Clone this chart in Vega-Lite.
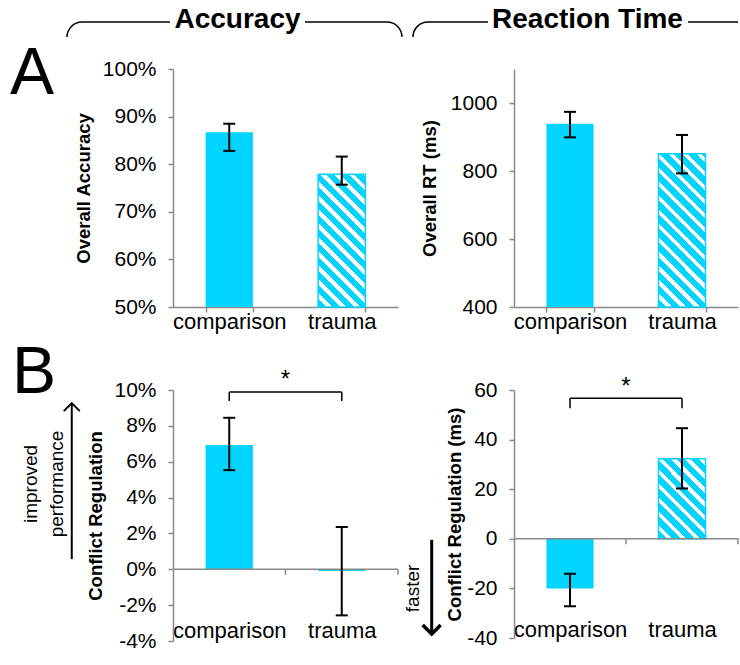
{
  "$schema": "https://vega.github.io/schema/vega-lite/v6.json",
  "padding": {"left": 10, "top": 5, "right": 0, "bottom": 5},
  "background": "white",
  "bounds": "flush",
  "columns": 2,
  "spacing": {"row": 83, "column": 116},
  "datasets": {
    "overall": [
      {"group": "comparison", "acc": 0.867, "accLo": 0.828, "accHi": 0.885, "rt": 939, "rtLo": 899, "rtHi": 974},
      {"group": "trauma", "acc": 0.779, "accLo": 0.757, "accHi": 0.816, "rt": 851, "rtLo": 793, "rtHi": 906}
    ],
    "regulation": [
      {"group": "comparison", "cr": 0.0693, "crLo": 0.0553, "crHi": 0.0845, "crt": -20, "crtLo": -27.2, "crtHi": -14.1},
      {"group": "trauma", "cr": -0.001, "crLo": -0.0257, "crHi": 0.0236, "crt": 32.3, "crtLo": 20.3, "crtHi": 44.6}
    ]
  },
  "concat": [
    {
      "width": 225,
      "height": 238,
      "layer": [
        {
          "data": {"name": "overall"},
          "transform": [{"filter": "datum.group === 'comparison'"}],
          "mark": {"type": "bar", "color": "#00d4ff"},
          "encoding": {
            "x": {"field": "group", "type": "nominal", "title": null, "scale": {"paddingInner": 0.58, "paddingOuter": 0.29}},
            "y": {"field": "acc", "type": "quantitative", "title": "Overall Accuracy", "scale": {"domain": [0.5, 1], "nice": false}, "axis": {"values": [0.5, 0.6, 0.7, 0.8, 0.9, 1.0], "tickCount": 20, "format": ".0%", "titlePadding": 9}},
            "y2": {"datum": 0.5}
          }
        },
        {
          "data": {"name": "overall"},
          "transform": [{"filter": "datum.group === 'trauma'"}],
          "mark": {"type": "bar", "stroke": "#00d4ff", "strokeWidth": 1.5, "fill": {"gradient": "linear", "x1": 0, "y1": 1, "x2": 0.4282, "y2": -0.2034, "stops": [
            {"offset": 0, "color": "#00d4ff"}, {"offset": 0.0468, "color": "#00d4ff"}, {"offset": 0.0468, "color": "#ffffff"}, {"offset": 0.078, "color": "#ffffff"},
            {"offset": 0.078, "color": "#00d4ff"}, {"offset": 0.1248, "color": "#00d4ff"}, {"offset": 0.1248, "color": "#ffffff"}, {"offset": 0.156, "color": "#ffffff"},
            {"offset": 0.156, "color": "#00d4ff"}, {"offset": 0.2028, "color": "#00d4ff"}, {"offset": 0.2028, "color": "#ffffff"}, {"offset": 0.234, "color": "#ffffff"},
            {"offset": 0.234, "color": "#00d4ff"}, {"offset": 0.2808, "color": "#00d4ff"}, {"offset": 0.2808, "color": "#ffffff"}, {"offset": 0.312, "color": "#ffffff"},
            {"offset": 0.312, "color": "#00d4ff"}, {"offset": 0.3588, "color": "#00d4ff"}, {"offset": 0.3588, "color": "#ffffff"}, {"offset": 0.39, "color": "#ffffff"},
            {"offset": 0.39, "color": "#00d4ff"}, {"offset": 0.4368, "color": "#00d4ff"}, {"offset": 0.4368, "color": "#ffffff"}, {"offset": 0.468, "color": "#ffffff"},
            {"offset": 0.468, "color": "#00d4ff"}, {"offset": 0.5148, "color": "#00d4ff"}, {"offset": 0.5148, "color": "#ffffff"}, {"offset": 0.546, "color": "#ffffff"},
            {"offset": 0.546, "color": "#00d4ff"}, {"offset": 0.5928, "color": "#00d4ff"}, {"offset": 0.5928, "color": "#ffffff"}, {"offset": 0.624, "color": "#ffffff"},
            {"offset": 0.624, "color": "#00d4ff"}, {"offset": 0.6708, "color": "#00d4ff"}, {"offset": 0.6708, "color": "#ffffff"}, {"offset": 0.702, "color": "#ffffff"},
            {"offset": 0.702, "color": "#00d4ff"}, {"offset": 0.7488, "color": "#00d4ff"}, {"offset": 0.7488, "color": "#ffffff"}, {"offset": 0.78, "color": "#ffffff"},
            {"offset": 0.78, "color": "#00d4ff"}, {"offset": 0.8268, "color": "#00d4ff"}, {"offset": 0.8268, "color": "#ffffff"}, {"offset": 0.858, "color": "#ffffff"},
            {"offset": 0.858, "color": "#00d4ff"}, {"offset": 0.9048, "color": "#00d4ff"}, {"offset": 0.9048, "color": "#ffffff"}, {"offset": 0.936, "color": "#ffffff"},
            {"offset": 0.936, "color": "#00d4ff"}, {"offset": 0.9828, "color": "#00d4ff"}, {"offset": 0.9828, "color": "#ffffff"}, {"offset": 1, "color": "#ffffff"}
          ]}},
          "encoding": {
            "x": {"field": "group", "type": "nominal", "title": null},
            "y": {"field": "acc", "type": "quantitative", "title": "Overall Accuracy"},
            "y2": {"datum": 0.5}
          }
        },
        {
          "data": {"name": "overall"},
          "mark": {"type": "rule", "color": "#000000", "strokeWidth": 2},
          "encoding": {
            "x": {"field": "group", "type": "nominal", "title": null},
            "y": {"field": "accLo", "type": "quantitative", "title": "Overall Accuracy"},
            "y2": {"field": "accHi"}
          }
        },
        {
          "data": {"name": "overall"},
          "mark": {"type": "tick", "color": "#000000", "thickness": 2, "size": 12, "opacity": 1},
          "encoding": {
            "x": {"field": "group", "type": "nominal", "title": null},
            "y": {"field": "accLo", "type": "quantitative", "title": "Overall Accuracy"}
          }
        },
        {
          "data": {"name": "overall"},
          "mark": {"type": "tick", "color": "#000000", "thickness": 2, "size": 12, "opacity": 1},
          "encoding": {
            "x": {"field": "group", "type": "nominal", "title": null},
            "y": {"field": "accHi", "type": "quantitative", "title": "Overall Accuracy"}
          }
        },
        {
          "data": {"values": [{}]},
          "mark": {"type": "text", "text": "A", "fontSize": 66, "font": "Liberation Sans", "align": "left", "baseline": "alphabetic", "color": "#000000", "xOffset": -219.25},
          "encoding": {"x": {"datum": "comparison"}, "y": {"datum": 0.9475}}
        },
        {
          "data": {"values": [{}]},
          "mark": {"type": "text", "text": "Accuracy", "fontSize": 28, "fontWeight": "bold", "font": "Liberation Sans", "align": "center", "baseline": "alphabetic", "color": "#000000", "xOffset": 8.25},
          "encoding": {"x": {"datum": "comparison"}, "y": {"datum": 1.0861}}
        },
        {
          "data": {"values": [{}]},
          "mark": {"type": "rule", "color": "#000000", "strokeWidth": 1.5, "xOffset": -147.25, "x2Offset": -59.25},
          "encoding": {"x": {"datum": "comparison"}, "x2": {"datum": "comparison"}, "y": {"datum": 1.0987}}
        },
        {
          "data": {"values": [{}]},
          "mark": {"type": "rule", "color": "#000000", "strokeWidth": 1.5, "xOffset": 75.75, "x2Offset": 157.75},
          "encoding": {"x": {"datum": "comparison"}, "x2": {"datum": "comparison"}, "y": {"datum": 1.0987}}
        },
        {
          "data": {"values": [{}]},
          "mark": {"type": "point", "shape": "M-1,0A1,1,0,0,1,0,-1", "size": 900, "filled": false, "stroke": "#000000", "strokeWidth": 1.5, "opacity": 1, "xOffset": -147.25},
          "encoding": {"x": {"datum": "comparison"}, "y": {"datum": 1.0672}}
        },
        {
          "data": {"values": [{}]},
          "mark": {"type": "point", "shape": "M0,-1A1,1,0,0,1,1,0", "size": 900, "filled": false, "stroke": "#000000", "strokeWidth": 1.5, "opacity": 1, "xOffset": 157.75},
          "encoding": {"x": {"datum": "comparison"}, "y": {"datum": 1.0672}}
        }
      ]
    },
    {
      "width": 224,
      "height": 238,
      "layer": [
        {
          "data": {"name": "overall"},
          "transform": [{"filter": "datum.group === 'comparison'"}],
          "mark": {"type": "bar", "color": "#00d4ff"},
          "encoding": {
            "x": {"field": "group", "type": "nominal", "title": null, "scale": {"paddingInner": 0.58, "paddingOuter": 0.29}},
            "y": {"field": "rt", "type": "quantitative", "title": "Overall RT (ms)", "scale": {"domain": [400, 1100], "nice": false}, "axis": {"values": [400, 600, 800, 1000], "tickCount": 20, "format": "d", "titlePadding": 11}},
            "y2": {"datum": 400}
          }
        },
        {
          "data": {"name": "overall"},
          "transform": [{"filter": "datum.group === 'trauma'"}],
          "mark": {"type": "bar", "stroke": "#00d4ff", "strokeWidth": 1.5, "fill": {"gradient": "linear", "x1": 0, "y1": 1, "x2": 0.3665, "y2": -0.1944, "stops": [
            {"offset": 0, "color": "#00d4ff"}, {"offset": 0.042, "color": "#00d4ff"}, {"offset": 0.042, "color": "#ffffff"}, {"offset": 0.07, "color": "#ffffff"},
            {"offset": 0.07, "color": "#00d4ff"}, {"offset": 0.112, "color": "#00d4ff"}, {"offset": 0.112, "color": "#ffffff"}, {"offset": 0.14, "color": "#ffffff"},
            {"offset": 0.14, "color": "#00d4ff"}, {"offset": 0.182, "color": "#00d4ff"}, {"offset": 0.182, "color": "#ffffff"}, {"offset": 0.21, "color": "#ffffff"},
            {"offset": 0.21, "color": "#00d4ff"}, {"offset": 0.252, "color": "#00d4ff"}, {"offset": 0.252, "color": "#ffffff"}, {"offset": 0.28, "color": "#ffffff"},
            {"offset": 0.28, "color": "#00d4ff"}, {"offset": 0.322, "color": "#00d4ff"}, {"offset": 0.322, "color": "#ffffff"}, {"offset": 0.35, "color": "#ffffff"},
            {"offset": 0.35, "color": "#00d4ff"}, {"offset": 0.392, "color": "#00d4ff"}, {"offset": 0.392, "color": "#ffffff"}, {"offset": 0.42, "color": "#ffffff"},
            {"offset": 0.42, "color": "#00d4ff"}, {"offset": 0.462, "color": "#00d4ff"}, {"offset": 0.462, "color": "#ffffff"}, {"offset": 0.49, "color": "#ffffff"},
            {"offset": 0.49, "color": "#00d4ff"}, {"offset": 0.532, "color": "#00d4ff"}, {"offset": 0.532, "color": "#ffffff"}, {"offset": 0.56, "color": "#ffffff"},
            {"offset": 0.56, "color": "#00d4ff"}, {"offset": 0.602, "color": "#00d4ff"}, {"offset": 0.602, "color": "#ffffff"}, {"offset": 0.63, "color": "#ffffff"},
            {"offset": 0.63, "color": "#00d4ff"}, {"offset": 0.672, "color": "#00d4ff"}, {"offset": 0.672, "color": "#ffffff"}, {"offset": 0.7, "color": "#ffffff"},
            {"offset": 0.7, "color": "#00d4ff"}, {"offset": 0.742, "color": "#00d4ff"}, {"offset": 0.742, "color": "#ffffff"}, {"offset": 0.77, "color": "#ffffff"},
            {"offset": 0.77, "color": "#00d4ff"}, {"offset": 0.812, "color": "#00d4ff"}, {"offset": 0.812, "color": "#ffffff"}, {"offset": 0.84, "color": "#ffffff"},
            {"offset": 0.84, "color": "#00d4ff"}, {"offset": 0.882, "color": "#00d4ff"}, {"offset": 0.882, "color": "#ffffff"}, {"offset": 0.91, "color": "#ffffff"},
            {"offset": 0.91, "color": "#00d4ff"}, {"offset": 0.952, "color": "#00d4ff"}, {"offset": 0.952, "color": "#ffffff"}, {"offset": 0.98, "color": "#ffffff"},
            {"offset": 0.98, "color": "#00d4ff"}, {"offset": 1, "color": "#00d4ff"}
          ]}},
          "encoding": {
            "x": {"field": "group", "type": "nominal", "title": null},
            "y": {"field": "rt", "type": "quantitative", "title": "Overall RT (ms)"},
            "y2": {"datum": 400}
          }
        },
        {
          "data": {"name": "overall"},
          "mark": {"type": "rule", "color": "#000000", "strokeWidth": 2},
          "encoding": {
            "x": {"field": "group", "type": "nominal", "title": null},
            "y": {"field": "rtLo", "type": "quantitative", "title": "Overall RT (ms)"},
            "y2": {"field": "rtHi"}
          }
        },
        {
          "data": {"name": "overall"},
          "mark": {"type": "tick", "color": "#000000", "thickness": 2, "size": 12, "opacity": 1},
          "encoding": {
            "x": {"field": "group", "type": "nominal", "title": null},
            "y": {"field": "rtLo", "type": "quantitative", "title": "Overall RT (ms)"}
          }
        },
        {
          "data": {"name": "overall"},
          "mark": {"type": "tick", "color": "#000000", "thickness": 2, "size": 12, "opacity": 1},
          "encoding": {
            "x": {"field": "group", "type": "nominal", "title": null},
            "y": {"field": "rtHi", "type": "quantitative", "title": "Overall RT (ms)"}
          }
        },
        {
          "data": {"values": [{}]},
          "mark": {"type": "text", "text": "Reaction Time", "fontSize": 28, "fontWeight": "bold", "font": "Liberation Sans", "align": "center", "baseline": "alphabetic", "color": "#000000", "xOffset": 17.5},
          "encoding": {"x": {"datum": "comparison"}, "y": {"datum": 1220.6}}
        },
        {
          "data": {"values": [{}]},
          "mark": {"type": "rule", "color": "#000000", "strokeWidth": 1.5, "xOffset": -142, "x2Offset": -82},
          "encoding": {"x": {"datum": "comparison"}, "x2": {"datum": "comparison"}, "y": {"datum": 1238.2}}
        },
        {
          "data": {"values": [{}]},
          "mark": {"type": "rule", "color": "#000000", "strokeWidth": 1.5, "xOffset": 118, "x2Offset": 168},
          "encoding": {"x": {"datum": "comparison"}, "x2": {"datum": "comparison"}, "y": {"datum": 1238.2}}
        },
        {
          "data": {"values": [{}]},
          "mark": {"type": "point", "shape": "M-1,0A1,1,0,0,1,0,-1", "size": 900, "filled": false, "stroke": "#000000", "strokeWidth": 1.5, "opacity": 1, "xOffset": -142},
          "encoding": {"x": {"datum": "comparison"}, "y": {"datum": 1194.1}}
        }
      ]
    },
    {
      "width": 225,
      "height": 251,
      "layer": [
        {
          "data": {"name": "regulation"},
          "mark": {"type": "bar", "color": "#00d4ff"},
          "encoding": {
            "x": {"field": "group", "type": "nominal", "title": null, "scale": {"paddingInner": 0.58, "paddingOuter": 0.29}, "axis": {"domain": false, "ticks": false, "offset": -21, "labelPadding": 0}},
            "y": {"field": "cr", "type": "quantitative", "title": "Conflict Regulation", "scale": {"domain": [-0.04, 0.1], "nice": false}, "axis": {"values": [-0.04, -0.02, 0, 0.02, 0.04, 0.06, 0.08, 0.1], "tickCount": 20, "format": ".0%", "labelExpr": "replace(datum.label, '−', '-')", "titlePadding": 8}}
          }
        },
        {
          "data": {"values": [{}]},
          "mark": {"type": "rule", "color": "#8a8a8a", "strokeWidth": 1.5},
          "encoding": {"y": {"datum": 0}}
        },
        {
          "data": {"name": "regulation"},
          "mark": {"type": "rule", "color": "#8a8a8a", "strokeWidth": 1.5},
          "encoding": {
            "x": {"field": "group", "type": "nominal", "title": null, "bandPosition": 1.69},
            "y": {"datum": 0},
            "y2": {"datum": -0.003}
          }
        },
        {
          "data": {"name": "regulation"},
          "mark": {"type": "rule", "color": "#000000", "strokeWidth": 2},
          "encoding": {
            "x": {"field": "group", "type": "nominal", "title": null},
            "y": {"field": "crLo", "type": "quantitative", "title": "Conflict Regulation"},
            "y2": {"field": "crHi"}
          }
        },
        {
          "data": {"name": "regulation"},
          "mark": {"type": "tick", "color": "#000000", "thickness": 2, "size": 12, "opacity": 1},
          "encoding": {
            "x": {"field": "group", "type": "nominal", "title": null},
            "y": {"field": "crLo", "type": "quantitative", "title": "Conflict Regulation"}
          }
        },
        {
          "data": {"name": "regulation"},
          "mark": {"type": "tick", "color": "#000000", "thickness": 2, "size": 12, "opacity": 1},
          "encoding": {
            "x": {"field": "group", "type": "nominal", "title": null},
            "y": {"field": "crHi", "type": "quantitative", "title": "Conflict Regulation"}
          }
        },
        {
          "data": {"values": [{}]},
          "mark": {"type": "rule", "color": "#000000", "strokeWidth": 1.5},
          "encoding": {"x": {"datum": "comparison"}, "x2": {"datum": "trauma"}, "y": {"datum": 0.0989}}
        },
        {
          "data": {"name": "regulation"},
          "mark": {"type": "rule", "color": "#000000", "strokeWidth": 1.5},
          "encoding": {"x": {"field": "group", "type": "nominal", "title": null}, "y": {"datum": 0.0989}, "y2": {"datum": 0.0939}}
        },
        {
          "data": {"values": [{}]},
          "mark": {"type": "text", "text": "*", "fontSize": 24, "font": "Liberation Sans", "align": "center", "baseline": "alphabetic", "color": "#000000"},
          "encoding": {"x": {"datum": "comparison", "bandPosition": 1.69}, "y": {"datum": 0.1014}}
        },
        {
          "data": {"values": [{}]},
          "mark": {"type": "text", "text": "B", "fontSize": 66, "font": "Liberation Sans", "align": "left", "baseline": "alphabetic", "color": "#000000", "xOffset": -217.25},
          "encoding": {"x": {"datum": "comparison"}, "y": {"datum": 0.0983}}
        },
        {
          "data": {"values": [{}]},
          "mark": {"type": "text", "text": ["improved", "performance"], "fontSize": 19, "lineHeight": 26, "font": "Liberation Sans", "angle": 270, "align": "center", "baseline": "middle", "color": "#000000", "xOffset": -198.25},
          "encoding": {"x": {"datum": "comparison"}, "y": {"datum": 0.0476}}
        },
        {
          "data": {"values": [{}]},
          "mark": {"type": "rule", "color": "#000000", "strokeWidth": 2, "xOffset": -157.5},
          "encoding": {"x": {"datum": "comparison"}, "y": {"datum": 0.0057}, "y2": {"datum": 0.0927}}
        },
        {
          "data": {"values": [{}]},
          "mark": {"type": "point", "shape": "M-1,1L0,0L1,1", "size": 256, "filled": false, "stroke": "#000000", "strokeWidth": 2, "opacity": 1, "xOffset": -157.5},
          "encoding": {"x": {"datum": "comparison"}, "y": {"datum": 0.0927}}
        }
      ]
    },
    {
      "width": 224,
      "height": 248,
      "layer": [
        {
          "data": {"name": "regulation"},
          "transform": [{"filter": "datum.group === 'comparison'"}],
          "mark": {"type": "bar", "color": "#00d4ff"},
          "encoding": {
            "x": {"field": "group", "type": "nominal", "title": null, "scale": {"paddingInner": 0.58, "paddingOuter": 0.29}, "axis": {"domain": false, "ticks": false, "offset": -19, "labelPadding": 0}},
            "y": {"field": "crt", "type": "quantitative", "title": "Conflict Regulation (ms)", "scale": {"domain": [-40, 60], "nice": false}, "axis": {"values": [-40, -20, 0, 20, 40, 60], "tickCount": 20, "labelExpr": "replace(datum.label, '−', '-')", "titlePadding": 2}}
          }
        },
        {
          "data": {"name": "regulation"},
          "transform": [{"filter": "datum.group === 'trauma'"}],
          "mark": {"type": "bar", "stroke": "#00d4ff", "strokeWidth": 1.5, "fill": {"gradient": "linear", "x1": 0, "y1": 1, "x2": 0.6931, "y2": -0.1802, "stops": [
            {"offset": 0, "color": "#00d4ff"}, {"offset": 0.066, "color": "#00d4ff"}, {"offset": 0.066, "color": "#ffffff"}, {"offset": 0.11, "color": "#ffffff"},
            {"offset": 0.11, "color": "#00d4ff"}, {"offset": 0.176, "color": "#00d4ff"}, {"offset": 0.176, "color": "#ffffff"}, {"offset": 0.22, "color": "#ffffff"},
            {"offset": 0.22, "color": "#00d4ff"}, {"offset": 0.286, "color": "#00d4ff"}, {"offset": 0.286, "color": "#ffffff"}, {"offset": 0.33, "color": "#ffffff"},
            {"offset": 0.33, "color": "#00d4ff"}, {"offset": 0.396, "color": "#00d4ff"}, {"offset": 0.396, "color": "#ffffff"}, {"offset": 0.44, "color": "#ffffff"},
            {"offset": 0.44, "color": "#00d4ff"}, {"offset": 0.506, "color": "#00d4ff"}, {"offset": 0.506, "color": "#ffffff"}, {"offset": 0.55, "color": "#ffffff"},
            {"offset": 0.55, "color": "#00d4ff"}, {"offset": 0.616, "color": "#00d4ff"}, {"offset": 0.616, "color": "#ffffff"}, {"offset": 0.66, "color": "#ffffff"},
            {"offset": 0.66, "color": "#00d4ff"}, {"offset": 0.726, "color": "#00d4ff"}, {"offset": 0.726, "color": "#ffffff"}, {"offset": 0.77, "color": "#ffffff"},
            {"offset": 0.77, "color": "#00d4ff"}, {"offset": 0.836, "color": "#00d4ff"}, {"offset": 0.836, "color": "#ffffff"}, {"offset": 0.88, "color": "#ffffff"},
            {"offset": 0.88, "color": "#00d4ff"}, {"offset": 0.946, "color": "#00d4ff"}, {"offset": 0.946, "color": "#ffffff"}, {"offset": 0.99, "color": "#ffffff"},
            {"offset": 0.99, "color": "#00d4ff"}, {"offset": 1, "color": "#00d4ff"}
          ]}},
          "encoding": {
            "x": {"field": "group", "type": "nominal", "title": null},
            "y": {"field": "crt", "type": "quantitative", "title": "Conflict Regulation (ms)"}
          }
        },
        {
          "data": {"values": [{}]},
          "mark": {"type": "rule", "color": "#8a8a8a", "strokeWidth": 1.5},
          "encoding": {"y": {"datum": 0}}
        },
        {
          "data": {"name": "regulation"},
          "mark": {"type": "rule", "color": "#8a8a8a", "strokeWidth": 1.5},
          "encoding": {
            "x": {"field": "group", "type": "nominal", "title": null, "bandPosition": 1.69},
            "y": {"datum": 0},
            "y2": {"datum": -2.2}
          }
        },
        {
          "data": {"name": "regulation"},
          "mark": {"type": "rule", "color": "#000000", "strokeWidth": 2},
          "encoding": {
            "x": {"field": "group", "type": "nominal", "title": null},
            "y": {"field": "crtLo", "type": "quantitative", "title": "Conflict Regulation (ms)"},
            "y2": {"field": "crtHi"}
          }
        },
        {
          "data": {"name": "regulation"},
          "mark": {"type": "tick", "color": "#000000", "thickness": 2, "size": 12, "opacity": 1},
          "encoding": {
            "x": {"field": "group", "type": "nominal", "title": null},
            "y": {"field": "crtLo", "type": "quantitative", "title": "Conflict Regulation (ms)"}
          }
        },
        {
          "data": {"name": "regulation"},
          "mark": {"type": "tick", "color": "#000000", "thickness": 2, "size": 12, "opacity": 1},
          "encoding": {
            "x": {"field": "group", "type": "nominal", "title": null},
            "y": {"field": "crtHi", "type": "quantitative", "title": "Conflict Regulation (ms)"}
          }
        },
        {
          "data": {"values": [{}]},
          "mark": {"type": "rule", "color": "#000000", "strokeWidth": 1.5},
          "encoding": {"x": {"datum": "comparison"}, "x2": {"datum": "trauma"}, "y": {"datum": 56.7}}
        },
        {
          "data": {"name": "regulation"},
          "mark": {"type": "rule", "color": "#000000", "strokeWidth": 1.5},
          "encoding": {"x": {"field": "group", "type": "nominal", "title": null}, "y": {"datum": 56.7}, "y2": {"datum": 52.6}}
        },
        {
          "data": {"values": [{}]},
          "mark": {"type": "text", "text": "*", "fontSize": 24, "font": "Liberation Sans", "align": "center", "baseline": "alphabetic", "color": "#000000"},
          "encoding": {"x": {"datum": "comparison", "bandPosition": 1.69}, "y": {"datum": 58.5}}
        },
        {
          "data": {"values": [{}]},
          "mark": {"type": "text", "text": "faster", "fontSize": 19, "font": "Liberation Sans", "angle": 270, "align": "center", "baseline": "middle", "color": "#000000", "xOffset": -157.5},
          "encoding": {"x": {"datum": "comparison"}, "y": {"datum": -20}}
        },
        {
          "data": {"values": [{}]},
          "mark": {"type": "rule", "color": "#000000", "strokeWidth": 3, "xOffset": -138.3},
          "encoding": {"x": {"datum": "comparison"}, "y": {"datum": -0.4}, "y2": {"datum": -38.4}}
        },
        {
          "data": {"values": [{}]},
          "mark": {"type": "point", "shape": "M-1,-1L0,0L1,-1", "size": 324, "filled": false, "stroke": "#000000", "strokeWidth": 3.5, "opacity": 1, "xOffset": -138.3},
          "encoding": {"x": {"datum": "comparison"}, "y": {"datum": -38.4}}
        }
      ]
    }
  ],
  "config": {
    "font": "Liberation Sans",
    "view": {"stroke": null},
    "axis": {
      "grid": false,
      "domainColor": "#8a8a8a",
      "domainWidth": 1.5,
      "tickColor": "#8a8a8a",
      "tickWidth": 1.5,
      "tickSize": 5,
      "labelColor": "#000000",
      "labelFont": "Liberation Sans",
      "labelFontSize": 21,
      "labelOverlap": false,
      "titleFont": "Liberation Sans",
      "titleFontSize": 18.5,
      "titleFontWeight": "bold",
      "titleColor": "#000000"
    },
    "axisX": {"labelAngle": 0, "labelFontSize": 22, "tickBand": "extent", "labelPadding": -1},
    "axisY": {"labelPadding": 12}
  }
}
